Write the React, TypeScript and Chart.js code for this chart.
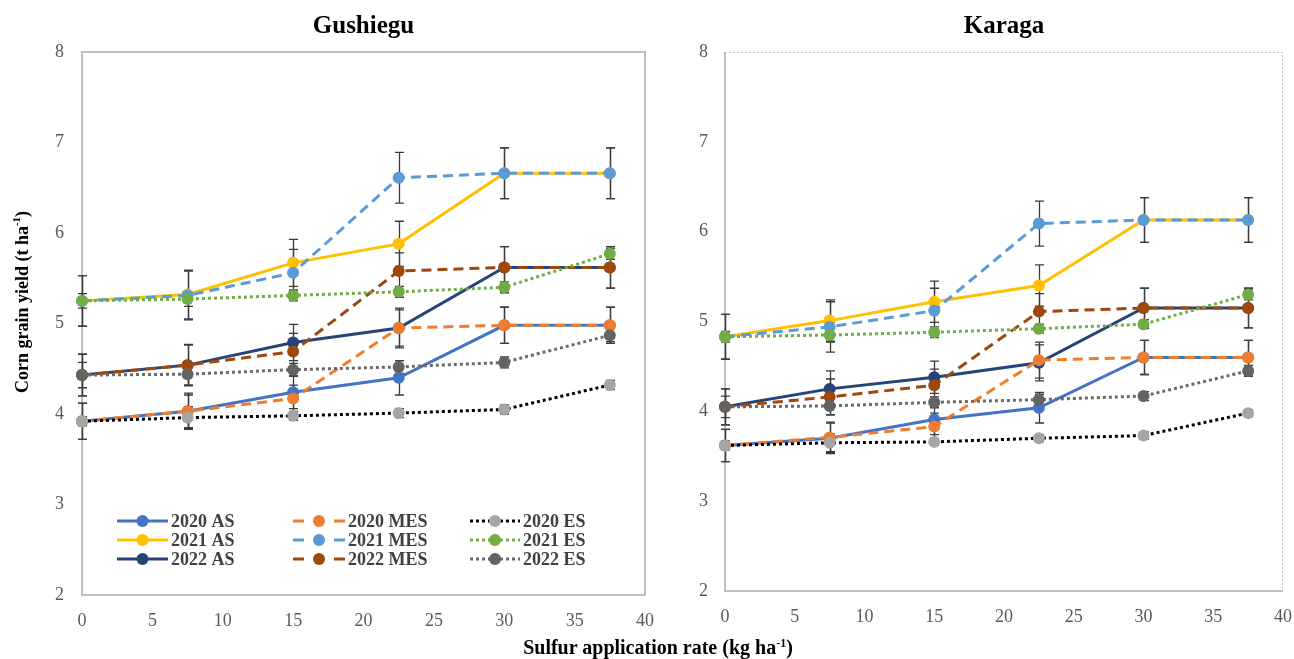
import React, { useEffect, useRef } from "react";
import { Chart, registerables } from "chart.js";

Chart.register(...registerables);

const FONT = "'Liberation Serif', 'Times New Roman', serif";

// ---------- data ----------
const xRates = [0, 7.5, 15, 22.5, 30, 37.5];
const seriesNames = ["2020 AS", "2020 MES", "2020 ES", "2021 AS", "2021 MES", "2021 ES", "2022 AS", "2022 MES", "2022 ES"];
const xTicks = [0, 5, 10, 15, 20, 25, 30, 35, 40];
const yTicks = [2, 3, 4, 5, 6, 7, 8];

// Gushiegu means (t/ha)
const gus2020AS = [3.92, 4.03, 4.24, 4.4, 4.98, 4.98];
const gus2020MES = [3.92, 4.03, 4.17, 4.95, 4.98, 4.98];
const gus2020ES = [3.92, 3.96, 3.98, 4.01, 4.05, 4.32];
const gus2021AS = [5.25, 5.32, 5.67, 5.88, 6.66, 6.66];
const gus2021MES = [5.25, 5.31, 5.56, 6.61, 6.66, 6.66];
const gus2021ES = [5.25, 5.27, 5.31, 5.35, 5.4, 5.77];
const gus2022AS = [4.43, 4.54, 4.79, 4.95, 5.62, 5.62];
const gus2022MES = [4.43, 4.54, 4.69, 5.58, 5.62, 5.62];
const gus2022ES = [4.43, 4.44, 4.49, 4.52, 4.57, 4.87];

// Gushiegu error bars (±)
const gusErr2020AS = [0.2, 0.2, 0.18, 0.19, 0.2, 0.2];
const gusErr2020MES = [0.2, 0.18, 0.15, 0.22, 0.2, 0.2];
const gusErr2020ES = [0.05, 0.12, 0.05, 0.05, 0.05, 0.05];
const gusErr2021AS = [0.28, 0.27, 0.26, 0.25, 0.28, 0.28];
const gusErr2021MES = [0.28, 0.27, 0.26, 0.28, 0.28, 0.28];
const gusErr2021ES = [0.08, 0.08, 0.06, 0.06, 0.06, 0.06];
const gusErr2022AS = [0.23, 0.23, 0.2, 0.2, 0.23, 0.23];
const gusErr2022MES = [0.23, 0.22, 0.2, 0.2, 0.23, 0.23];
const gusErr2022ES = [0.14, 0.12, 0.07, 0.07, 0.06, 0.07];

// Karaga means (t/ha)
const kar2020AS = [3.62, 3.7, 3.91, 4.04, 4.6, 4.6];
const kar2020MES = [3.62, 3.71, 3.83, 4.57, 4.6, 4.6];
const kar2020ES = [3.62, 3.65, 3.66, 3.7, 3.73, 3.98];
const kar2021AS = [4.83, 5.01, 5.22, 5.4, 6.13, 6.13];
const kar2021MES = [4.83, 4.94, 5.12, 6.09, 6.13, 6.13];
const kar2021ES = [4.83, 4.85, 4.88, 4.92, 4.97, 5.3];
const kar2022AS = [4.05, 4.25, 4.38, 4.54, 5.15, 5.15];
const kar2022MES = [4.05, 4.16, 4.29, 5.11, 5.15, 5.15];
const kar2022ES = [4.05, 4.06, 4.1, 4.13, 4.17, 4.45];

// Karaga error bars (±)
const karErr2020AS = [0.18, 0.17, 0.17, 0.17, 0.19, 0.19];
const karErr2020MES = [0.18, 0.17, 0.15, 0.2, 0.19, 0.19];
const karErr2020ES = [0.05, 0.1, 0.04, 0.04, 0.04, 0.04];
const karErr2021AS = [0.25, 0.23, 0.23, 0.23, 0.25, 0.25];
const karErr2021MES = [0.25, 0.28, 0.25, 0.25, 0.25, 0.25];
const karErr2021ES = [0.06, 0.08, 0.06, 0.05, 0.05, 0.06];
const karErr2022AS = [0.2, 0.2, 0.18, 0.2, 0.22, 0.22];
const karErr2022MES = [0.2, 0.2, 0.18, 0.2, 0.22, 0.22];
const karErr2022ES = [0.12, 0.1, 0.06, 0.06, 0.05, 0.06];

// ---------- styles ----------
const lineColors = ["#4472C4", "#ED7D31", "#000000", "#FFC000", "#5B9BD5", "#70AD47", "#264478", "#9E480E", "#6A6A6A"];
const markerColors = ["#4472C4", "#ED7D31", "#A5A5A5", "#FFC000", "#5B9BD5", "#70AD47", "#264478", "#9E480E", "#636363"];
const seriesKind = ["AS", "MES", "ES", "AS", "MES", "ES", "AS", "MES", "ES"];
const dashFor = (k: string) => (k === "MES" ? [10, 6] : k === "ES" ? [3, 3] : []);
const kindRank = (k: string) => (k === "AS" ? 0 : k === "MES" ? 1 : 2);

type PanelCfg = {
  title: string;
  values: number[][];
  errors: number[][];
  dottedTopRight: boolean;
  legend: boolean;
  yTitle: boolean;
  yWidth: number;
  xHeight: number;
  padRight: number;
  yPad: number;
  xPad: number;
  width: number;
  left: number;
};

const gusCfg: PanelCfg = {
  title: "Gushiegu",
  values: [gus2020AS, gus2020MES, gus2020ES, gus2021AS, gus2021MES, gus2021ES, gus2022AS, gus2022MES, gus2022ES],
  errors: [gusErr2020AS, gusErr2020MES, gusErr2020ES, gusErr2021AS, gusErr2021MES, gusErr2021ES, gusErr2022AS, gusErr2022MES, gusErr2022ES],
  dottedTopRight: false,
  legend: true,
  yTitle: true,
  yWidth: 82,
  xHeight: 64,
  padRight: 15,
  yPad: 18,
  xPad: 15,
  width: 660,
  left: 0,
};

const karCfg: PanelCfg = {
  title: "Karaga",
  values: [kar2020AS, kar2020MES, kar2020ES, kar2021AS, kar2021MES, kar2021ES, kar2022AS, kar2022MES, kar2022ES],
  errors: [karErr2020AS, karErr2020MES, karErr2020ES, karErr2021AS, karErr2021MES, karErr2021ES, karErr2022AS, karErr2022MES, karErr2022ES],
  dottedTopRight: true,
  legend: false,
  yTitle: false,
  yWidth: 65,
  xHeight: 68,
  padRight: 11,
  yPad: 17,
  xPad: 15,
  width: 634,
  left: 660,
};

function makePlugins(cfg: PanelCfg) {
  const framePlugin = {
    id: "frame",
    beforeDatasetsDraw(chart: any) {
      const { ctx, chartArea: a } = chart;
      ctx.save();
      ctx.strokeStyle = "#BFBFBF";
      ctx.lineWidth = 2;
      ctx.setLineDash([]);
      ctx.beginPath();
      ctx.moveTo(a.left, a.top);
      ctx.lineTo(a.left, a.bottom);
      ctx.lineTo(a.right, a.bottom);
      if (!cfg.dottedTopRight) {
        ctx.lineTo(a.right, a.top);
        ctx.closePath();
      }
      ctx.stroke();
      if (cfg.dottedTopRight) {
        ctx.lineWidth = 1;
        ctx.setLineDash([2, 2]);
        ctx.beginPath();
        ctx.moveTo(a.left, a.top + 0.5);
        ctx.lineTo(a.right - 0.5, a.top + 0.5);
        ctx.lineTo(a.right - 0.5, a.bottom);
        ctx.stroke();
      }
      ctx.restore();
    },
  };

  const errorPlugin = {
    id: "errorBars",
    beforeDatasetsDraw(chart: any) {
      const { ctx } = chart;
      const xs = chart.scales.x;
      const ys = chart.scales.y;
      ctx.save();
      ctx.strokeStyle = "#3A3A3A";
      ctx.lineWidth = 1.3;
      ctx.setLineDash([]);
      chart.data.datasets.forEach((ds: any, di: number) => {
        ds.data.forEach((p: any, pi: number) => {
          const e = cfg.errors[di][pi];
          const px = Math.round(xs.getPixelForValue(p.x)) + 0.5;
          const top = ys.getPixelForValue(p.y + e);
          const bot = ys.getPixelForValue(p.y - e);
          ctx.beginPath();
          ctx.moveTo(px, top);
          ctx.lineTo(px, bot);
          ctx.moveTo(px - 4.5, top);
          ctx.lineTo(px + 4.5, top);
          ctx.moveTo(px - 4.5, bot);
          ctx.lineTo(px + 4.5, bot);
          ctx.stroke();
        });
      });
      ctx.restore();
    },
  };

  const legendPlugin = {
    id: "innerLegend",
    afterDatasetsDraw(chart: any) {
      if (!cfg.legend) return;
      const { ctx, chartArea: a } = chart;
      const rowOffsets = [74, 55, 36];
      const cols = [
        { x0: 35, x1: 86, text: 89 },
        { x0: 211, x1: 263, text: 266 },
        { x0: 388, x1: 438, text: 441 },
      ];
      ctx.save();
      seriesNames.forEach((name, i) => {
        const row = Math.floor(i / 3);
        const col = cols[i % 3];
        const y = a.bottom - rowOffsets[row];
        const x0 = a.left + col.x0;
        const x1 = a.left + col.x1;
        const mx = (x0 + x1) / 2;
        const kind = seriesKind[i];
        ctx.strokeStyle = lineColors[i];
        ctx.lineWidth = 3;
        ctx.lineCap = "butt";
        if (kind === "MES") {
          ctx.setLineDash([]);
          ctx.beginPath();
          ctx.moveTo(x0, y);
          ctx.lineTo(x0 + 11, y);
          ctx.moveTo(x1 - 11, y);
          ctx.lineTo(x1, y);
          ctx.stroke();
        } else {
          ctx.setLineDash(dashFor(kind));
          ctx.beginPath();
          ctx.moveTo(x0, y);
          ctx.lineTo(x1, y);
          ctx.stroke();
        }
        ctx.setLineDash([]);
        ctx.fillStyle = markerColors[i];
        ctx.beginPath();
        ctx.arc(mx, y, 6, 0, Math.PI * 2);
        ctx.fill();
        ctx.fillStyle = "#404040";
        ctx.font = `bold 18px ${FONT}`;
        ctx.textBaseline = "middle";
        ctx.textAlign = "left";
        ctx.fillText(name, a.left + col.text, y + 1);
      });
      ctx.restore();
    },
  };

  const yTitlePlugin = {
    id: "yTitle",
    afterDraw(chart: any) {
      if (!cfg.yTitle) return;
      const { ctx } = chart;
      ctx.save();
      ctx.translate(23, 302);
      ctx.rotate(-Math.PI / 2);
      ctx.fillStyle = "#000";
      ctx.textBaseline = "middle";
      ctx.textAlign = "left";
      const mainFont = `bold 18px ${FONT}`;
      const supFont = `bold 11px ${FONT}`;
      const main = "Corn grain yield (t ha";
      const sup = "-1";
      const end = ")";
      ctx.font = mainFont;
      const wMain = ctx.measureText(main).width;
      const wEnd = ctx.measureText(end).width;
      ctx.font = supFont;
      const wSup = ctx.measureText(sup).width;
      let x = -(wMain + wSup + wEnd) / 2;
      ctx.font = mainFont;
      ctx.fillText(main, x, 0);
      x += wMain;
      ctx.font = supFont;
      ctx.fillText(sup, x, -6);
      x += wSup;
      ctx.font = mainFont;
      ctx.fillText(end, x, 0);
      ctx.restore();
    },
  };

  return [framePlugin, errorPlugin, legendPlugin, yTitlePlugin];
}

function Panel({ cfg }: { cfg: PanelCfg }) {
  const ref = useRef<HTMLCanvasElement | null>(null);
  useEffect(() => {
    if (!ref.current) return;
    const datasets = seriesNames.map((name, i) => {
      const kind = seriesKind[i];
      return {
        label: name,
        data: xRates.map((x, j) => ({ x, y: cfg.values[i][j] })),
        borderColor: lineColors[i],
        backgroundColor: markerColors[i],
        pointBackgroundColor: markerColors[i],
        pointBorderColor: markerColors[i],
        pointBorderWidth: 0,
        pointRadius: 6,
        pointHoverRadius: 6,
        borderWidth: 3,
        borderDash: dashFor(kind),
        borderCapStyle: "butt" as const,
        tension: 0,
        clip: false as const,
        order: 8 - (kindRank(kind) * 3 + Math.floor(i / 3)),
      };
    });
    const chart = new Chart(ref.current, {
      type: "line",
      data: { datasets },
      options: {
        animation: false,
        responsive: false,
        events: [],
        layout: { padding: { left: 0, right: cfg.padRight, top: 0, bottom: 0 } },
        plugins: {
          legend: { display: false },
          tooltip: { enabled: false },
          title: {
            display: true,
            text: cfg.title,
            fullSize: false,
            color: "#000",
            font: { family: FONT, size: 25, weight: "bold" },
            padding: { top: 12, bottom: 10 },
          },
        },
        scales: {
          x: {
            type: "linear",
            min: 0,
            max: 40,
            afterBuildTicks: (s: any) => {
              s.ticks = xTicks.map((v) => ({ value: v }));
            },
            afterFit: (s: any) => {
              s.height = cfg.xHeight;
              s.paddingLeft = 0;
              s.paddingRight = 0;
            },
            ticks: {
              color: "#595959",
              font: { family: FONT, size: 18 },
              padding: cfg.xPad,
              maxRotation: 0,
              autoSkip: false,
            },
            grid: { display: false, drawTicks: false },
            border: { display: false },
          },
          y: {
            type: "linear",
            min: 2,
            max: 8,
            afterBuildTicks: (s: any) => {
              s.ticks = yTicks.map((v) => ({ value: v }));
            },
            afterFit: (s: any) => {
              s.width = cfg.yWidth;
              s.paddingTop = 0;
              s.paddingBottom = 0;
            },
            ticks: {
              color: "#595959",
              font: { family: FONT, size: 18 },
              padding: cfg.yPad,
            },
            grid: { display: false, drawTicks: false },
            border: { display: false },
          },
        },
      } as any,
      plugins: makePlugins(cfg) as any,
    });
    return () => chart.destroy();
  }, [cfg]);
  return (
    <canvas
      ref={ref}
      width={cfg.width}
      height={659}
      style={{ position: "absolute", left: cfg.left, top: 0, width: cfg.width, height: 659 }}
    />
  );
}

export default function App() {
  return (
    <div style={{ position: "fixed", left: 0, top: 0, width: 1294, height: 659, background: "#fff", overflow: "hidden" }}>
      <Panel cfg={gusCfg} />
      <Panel cfg={karCfg} />
      <div
        style={{
          position: "absolute",
          left: 458,
          top: 636,
          width: 400,
          textAlign: "center",
          fontFamily: FONT,
          fontWeight: "bold",
          fontSize: 20,
          lineHeight: "22px",
          color: "#000",
          whiteSpace: "nowrap",
        }}
      >
        Sulfur application rate (kg ha
        <span style={{ fontSize: 12, position: "relative", top: -7 }}>-1</span>)
      </div>
    </div>
  );
}
